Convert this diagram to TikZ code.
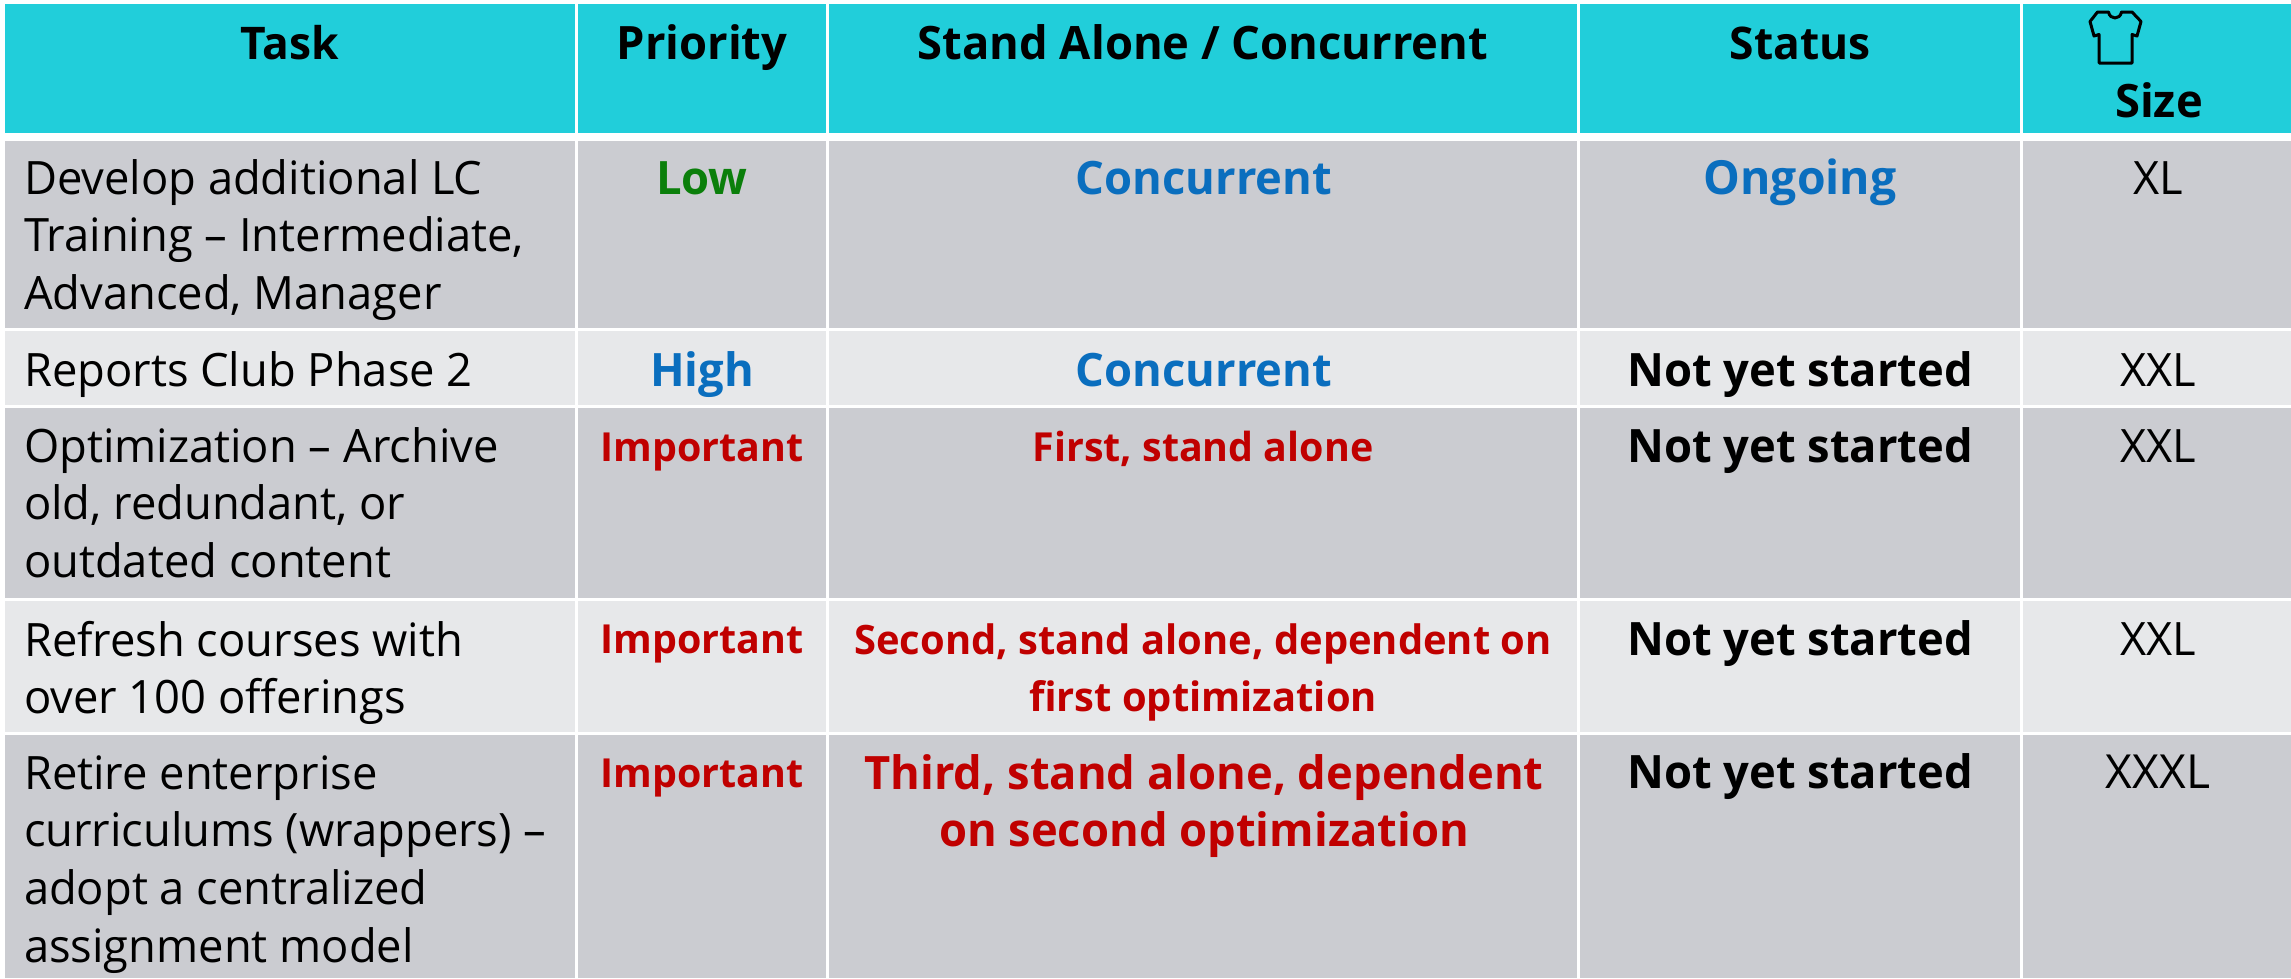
\documentclass[tikz,border=0pt]{standalone}
\usepackage{fontspec}
\setmainfont{Open Sans}[FakeStretch=0.985]
\definecolor{headc}{RGB}{33,206,218}
\definecolor{rowd}{RGB}{203,204,209}
\definecolor{rowl}{RGB}{231,232,234}
\definecolor{lowc}{RGB}{11,127,11}
\definecolor{bluec}{RGB}{10,110,190}
\definecolor{redc}{RGB}{192,0,0}
\newcommand{\cellbox}[6]{\node[cellbase,fill=#6,minimum width=#4 pt-#2 pt,minimum height=#5 pt-#3 pt] (#1) at (#2,#3) {};}
\newcommand{\lab}[8]{\node[txtbase,anchor=#2,text=#6,align=#7,font=\fontsize{#5}{57.8}\selectfont] (#1) at (#3,#4-40) {\rule{0pt}{40pt}#8};}
\newcommand{\blab}[8]{\node[txtbase,anchor=#2,text=#6,align=#7,font=\fontsize{#5}{57.8}\selectfont\bfseries] (#1) at (#3,#4-40) {\rule{0pt}{40pt}#8};}
\tikzset{
  cellbase/.style={anchor=north west,inner sep=0pt,outer sep=0pt,draw=none},
  txtbase/.style={inner sep=0pt,outer sep=0pt}
}
\begin{document}
\begin{tikzpicture}[x=1pt,y=-1pt]
\useasboundingbox (0,0) rectangle (2291,978);
\fill[white] (0,0) rectangle (2291,978);
% header
\cellbox{h1}{5}{4}{575}{133}{headc}
\cellbox{h2}{578}{4}{826}{133}{headc}
\cellbox{h3}{829}{4}{1577}{133}{headc}
\cellbox{h4}{1580}{4}{2020}{133}{headc}
\cellbox{h5}{2023}{4}{2291}{133}{headc}
% row 1
\cellbox{a1}{5}{141}{575}{328}{rowd}
\cellbox{a2}{578}{141}{826}{328}{rowd}
\cellbox{a3}{829}{141}{1577}{328}{rowd}
\cellbox{a4}{1580}{141}{2020}{328}{rowd}
\cellbox{a5}{2023}{141}{2291}{328}{rowd}
% row 2
\cellbox{b1}{5}{331}{575}{405}{rowl}
\cellbox{b2}{578}{331}{826}{405}{rowl}
\cellbox{b3}{829}{331}{1577}{405}{rowl}
\cellbox{b4}{1580}{331}{2020}{405}{rowl}
\cellbox{b5}{2023}{331}{2291}{405}{rowl}
% row 3
\cellbox{c1}{5}{408}{575}{598}{rowd}
\cellbox{c2}{578}{408}{826}{598}{rowd}
\cellbox{c3}{829}{408}{1577}{598}{rowd}
\cellbox{c4}{1580}{408}{2020}{598}{rowd}
\cellbox{c5}{2023}{408}{2291}{598}{rowd}
% row 4
\cellbox{d1}{5}{601}{575}{732}{rowl}
\cellbox{d2}{578}{601}{826}{732}{rowl}
\cellbox{d3}{829}{601}{1577}{732}{rowl}
\cellbox{d4}{1580}{601}{2020}{732}{rowl}
\cellbox{d5}{2023}{601}{2291}{732}{rowl}
% row 5
\cellbox{e1}{5}{735}{575}{978}{rowd}
\cellbox{e2}{578}{735}{826}{978}{rowd}
\cellbox{e3}{829}{735}{1577}{978}{rowd}
\cellbox{e4}{1580}{735}{2020}{978}{rowd}
\cellbox{e5}{2023}{735}{2291}{978}{rowd}
% header text
\blab{th1}{north}{290}{59}{45}{black}{center}{Task}
\blab{th2}{north}{702}{59}{46}{black}{center}{Priority}
\blab{th3}{north}{1203}{59}{46}{black}{center}{Stand Alone / Concurrent}
\blab{th4}{north}{1800}{59}{45}{black}{center}{Status}
\blab{th5}{north}{2159}{117}{46}{black}{center}{Size}
\draw[line width=3pt,line join=round,black]
  (2108.5,12) -- (2097.5,12) -- (2090,21.5) -- (2094,36) -- (2099,34.5) -- (2099,63) -- (2132,63) -- (2132,34.5) -- (2137,36) -- (2141,21.5) -- (2132,12) -- (2121.5,12)
  .. controls (2120,20) and (2110,20) .. (2108.5,12) -- cycle;
% task column
\lab{t1}{north west}{24}{194}{46}{black}{left}{Develop additional LC\\Training -- Intermediate,\\Advanced, Manager}
\lab{t2}{north west}{24}{386}{46}{black}{left}{Reports Club Phase 2}
\lab{t3}{north west}{24}{462}{46}{black}{left}{Optimization -- Archive\\old, redundant, or\\outdated content}
\lab{t4}{north west}{24}{656}{46}{black}{left}{Refresh courses with\\over 100 offerings}
\lab{t5}{north west}{24}{789}{46}{black}{left}{Retire enterprise\\curriculums (wrappers) --\\adopt a centralized\\assignment model}
% priority
\blab{p1}{north}{702}{194}{46}{lowc}{center}{Low}
\blab{p2}{north}{702}{386}{46}{bluec}{center}{High}
\blab{p3}{north}{702}{461}{40}{redc}{center}{Important}
\blab{p4}{north}{702}{653}{40}{redc}{center}{Important}
\blab{p5}{north}{702}{787}{40}{redc}{center}{Important}
% stand alone / concurrent
\blab{s1}{north}{1204}{194}{46}{bluec}{center}{Concurrent}
\blab{s2}{north}{1204}{386}{46}{bluec}{center}{Concurrent}
\blab{s3}{north}{1203}{461}{40}{redc}{center}{First, stand alone}
\blab{s4}{north}{1203}{654}{40.5}{redc}{center}{Second, stand alone, dependent on\\first optimization}
\blab{s5}{north}{1204}{789}{46}{redc}{center}{Third, stand alone, dependent\\on second optimization}
% status
\blab{u1}{north}{1800}{194}{47}{bluec}{center}{Ongoing}
\blab{u2}{north}{1800}{386}{46}{black}{center}{Not yet started}
\blab{u3}{north}{1800}{462}{46}{black}{center}{Not yet started}
\blab{u4}{north}{1800}{655}{46}{black}{center}{Not yet started}
\blab{u5}{north}{1800}{788}{46}{black}{center}{Not yet started}
% size
\lab{z1}{north}{2158}{194}{46}{black}{center}{XL}
\lab{z2}{north}{2158}{386}{46}{black}{center}{XXL}
\lab{z3}{north}{2158}{462}{46}{black}{center}{XXL}
\lab{z4}{north}{2158}{655}{46}{black}{center}{XXL}
\lab{z5}{north}{2158}{788}{47}{black}{center}{XXXL}
\end{tikzpicture}
\end{document}
